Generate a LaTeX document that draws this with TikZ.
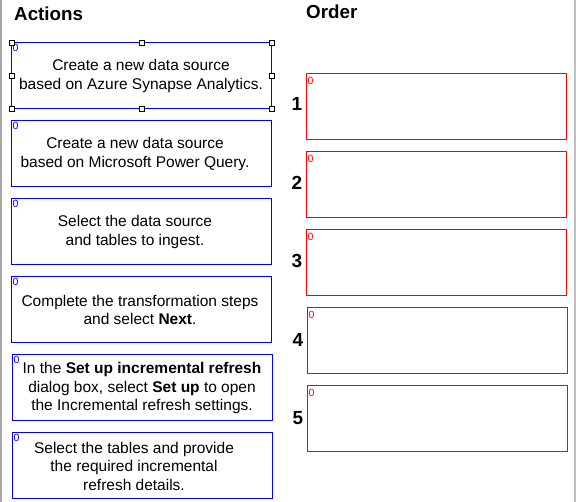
\documentclass[tikz,border=0pt]{standalone}
\usepackage{fontspec}
\setmainfont{Liberation Sans}
\begin{document}
\begin{tikzpicture}[x=1pt,y=-1pt,
  actbox/.style={draw=blue,line width=1.4pt},
  ordbox/.style={draw=red,line width=1.4pt},
  boxtext/.style={align=center,inner sep=0pt,font=\fontsize{15.5}{18.5}\selectfont},
  tagA/.style={anchor=north west,inner sep=0pt,text=blue,font=\fontsize{10.5}{10.5}\selectfont},
  tagO/.style={anchor=north west,inner sep=0pt,text=red,font=\fontsize{10.5}{10.5}\selectfont},
  heading/.style={anchor=west,inner sep=0pt,font=\bfseries\fontsize{18.8}{19}\selectfont},
  numlab/.style={inner sep=0pt,font=\bfseries\fontsize{19}{19}\selectfont},
  handle/.style={draw=black,fill=white,line width=0.6pt,minimum size=5pt,inner sep=0pt}
]
\useasboundingbox (0,0) rectangle (576,502);
\fill[white] (0,0) rectangle (576,502);
\draw[gray!70,line width=2pt] (1,0) -- (1,502);
\draw[gray!50,line width=2pt] (575,0) -- (575,502);

\node[heading] (hA) at (14,14) {Actions};
\node[heading] (hO) at (306,12) {Order};

% Action boxes
\draw[actbox] (11.5,42.5) rectangle (271.5,108.5);
\draw[actbox] (11.5,120.5) rectangle (271.5,186.5);
\draw[actbox] (11.5,198.5) rectangle (271.5,264.5);
\draw[actbox] (11.5,276.5) rectangle (271.5,342.5);
\draw[actbox] (12.5,354.5) rectangle (272.5,420.5);
\draw[actbox] (12.5,432.5) rectangle (272.5,498.5);

\foreach \y in {42,120,198,276}{\node[tagA] at (12.5,\y+2) {0};}
\foreach \y in {354,432}{\node[tagA] at (13.5,\y+2) {0};}

\node[boxtext] (a1) at (141,76) {Create a new data source\\based on Azure Synapse Analytics.};
\node[boxtext] (a2) at (135,154) {Create a new data source\\based on Microsoft Power Query.};
\node[boxtext] (a3) at (135,232) {Select the data source\\and tables to ingest.};
\node[boxtext] (a4) at (140,310) {Complete the transformation steps\\and select \textbf{Next}.};
\node[boxtext] (a5) at (142,388) {In the \textbf{Set up incremental refresh}\\dialog box, select \textbf{Set up} to open\\the Incremental refresh settings.};
\node[boxtext] (a6) at (134,466) {Select the tables and provide\\the required incremental\\refresh details.};

% selection handles on first box
\foreach \x/\y in {11.5/42.5,141.5/42.5,271.5/42.5,11.5/75.5,271.5/75.5,11.5/108.5,141.5/108.5,271.5/108.5}{
  \node[handle] at (\x,\y) {};
}

% Order boxes
\draw[ordbox] (306.5,73.5) rectangle (566.5,139.5);
\draw[ordbox] (306.5,151.5) rectangle (566.5,217.5);
\draw[ordbox] (306.5,229.5) rectangle (566.5,295.5);
\draw[ordbox] (307.5,307.5) rectangle (567.5,373.5);
\draw[ordbox] (307.5,385.5) rectangle (567.5,451.5);

\foreach \x/\y in {306/73,306/151,306/229,307/307,307/385}{\node[tagO] at (\x+1.5,\y+4) {0};}

\node[numlab] (n1) at (297,104) {1};
\node[numlab] (n2) at (297,183) {2};
\node[numlab] (n3) at (297,261) {3};
\node[numlab] (n4) at (298,340) {4};
\node[numlab] (n5) at (298,418) {5};
\end{tikzpicture}
\end{document}
